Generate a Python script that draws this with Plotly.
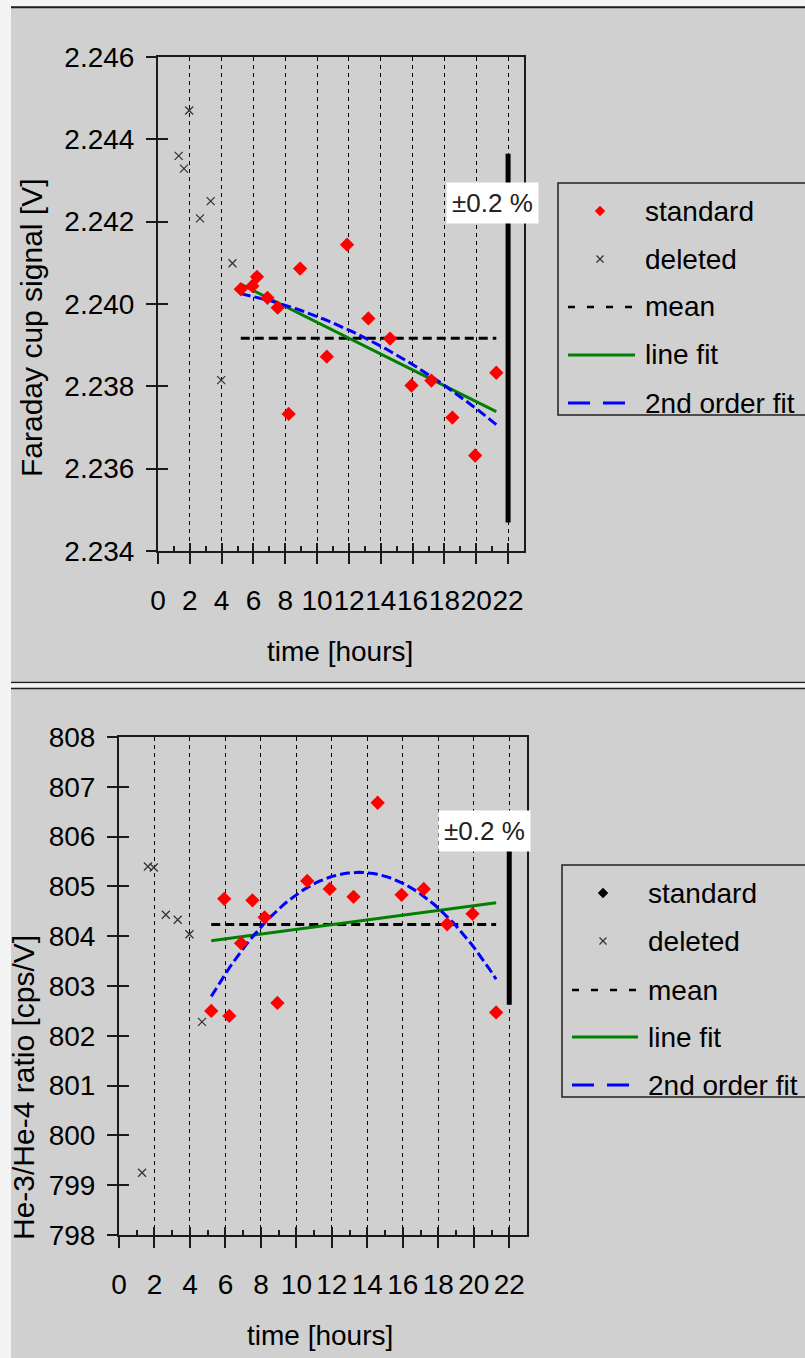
import numpy as np
import plotly.graph_objects as go

# ---------------- data ----------------
t_std = [5.20, 5.93, 6.22, 6.88, 7.52, 8.21, 8.93, 10.61, 11.88, 13.22, 14.58, 15.93, 17.18, 18.50, 19.93, 21.26]
fc_std = [2.24036, 2.24044, 2.24066, 2.24015, 2.23991, 2.23733, 2.24086, 2.23872, 2.24144,
          2.23965, 2.23916, 2.23802, 2.23814, 2.23724, 2.23632, 2.23833]
ratio_std = [802.50, 804.75, 802.40, 803.86, 804.72, 804.38, 802.66, 805.11, 804.95,
             804.79, 806.68, 804.83, 804.95, 804.24, 804.45, 802.47]

t_del = [1.30, 1.63, 1.96, 2.64, 3.31, 3.97, 4.68]
fc_del = [2.24360, 2.24329, 2.24470, 2.24208, 2.24250, 2.23815, 2.24099]
ratio_del = [799.25, 805.40, 805.38, 804.43, 804.33, 804.04, 802.28]

x_ticks = [0, 2, 4, 6, 8, 10, 12, 14, 16, 18, 20, 22]
x_minor = [1, 3, 5, 7, 9, 11, 13, 15, 17, 19, 21]
fc_ticks = [2.234, 2.236, 2.238, 2.240, 2.242, 2.244, 2.246]
ratio_ticks = [798, 799, 800, 801, 802, 803, 804, 805, 806, 807, 808]
band_frac = 0.002
band_x = 22

W, H = 805, 1358
FONT = "Liberation Sans, Arial, sans-serif"
BG = "#d0d0d0"
AX = "#1a1a1a"


def px(x):
    return x / W


def py(y):
    return 1 - y / H


fig = go.Figure()


def add_panel(xa, ya, xa2, ya2, t, y, td, yd):
    t = np.array(t)
    y = np.array(y)
    mean = y.mean()
    ts = np.linspace(t.min(), t.max(), 80)
    p1 = np.polyfit(t, y, 1)
    p2 = np.polyfit(t, y, 2)
    # mean
    fig.add_trace(go.Scatter(x=[t.min(), t.max()], y=[mean, mean], mode="lines",
                             line=dict(color="black", width=3, dash="9px,5px"),
                             xaxis=xa, yaxis=ya, showlegend=False, hoverinfo="skip"))
    # line fit
    fig.add_trace(go.Scatter(x=ts, y=np.polyval(p1, ts), mode="lines",
                             line=dict(color="#008000", width=3),
                             xaxis=xa, yaxis=ya, showlegend=False, hoverinfo="skip"))
    # 2nd order fit
    fig.add_trace(go.Scatter(x=ts, y=np.polyval(p2, ts), mode="lines",
                             line=dict(color="#0000ff", width=3, dash="10px,4px"),
                             xaxis=xa, yaxis=ya, showlegend=False, hoverinfo="skip"))
    # deleted
    fig.add_trace(go.Scatter(x=td, y=yd, mode="markers",
                             marker=dict(symbol="x-thin", size=8, line=dict(color="#303030", width=1.2)),
                             xaxis=xa, yaxis=ya, showlegend=False))
    # standard
    fig.add_trace(go.Scatter(x=t, y=y, mode="markers",
                             marker=dict(symbol="diamond", size=11, color="#ff0000"),
                             xaxis=xa, yaxis=ya, showlegend=False))
    # +-0.2% bar
    fig.add_trace(go.Scatter(x=[band_x, band_x], y=[mean * (1 - band_frac), mean * (1 + band_frac)],
                             mode="lines", line=dict(color="black", width=5),
                             xaxis=xa, yaxis=ya, showlegend=False, hoverinfo="skip"))
    # empty trace so the overlay axes (crossing ticks) are drawn
    fig.add_trace(go.Scatter(x=[], y=[], xaxis=xa2, yaxis=ya2, showlegend=False, hoverinfo="skip"))
    return mean


m1 = add_panel("x", "y", "x3", "y3", t_std, fc_std, t_del, fc_del)
m2 = add_panel("x2", "y2", "x4", "y4", t_std, ratio_std, t_del, ratio_del)

top_dom_x = [px(158), px(524)]
top_dom_y = [py(551), py(57)]
bot_dom_x = [px(119), px(527)]
bot_dom_y = [py(1235), py(737)]

tickfont = dict(family=FONT, size=28, color="black")


def xaxis_main(dom, anchor):
    return dict(domain=dom, anchor=anchor, range=[0, 23], tickmode="array", tickvals=x_ticks,
                ticks="outside", ticklen=11, tickwidth=2, tickcolor=AX,
                showline=True, linecolor=AX, linewidth=2, mirror=True,
                showgrid=True, gridcolor="black", gridwidth=1, griddash="4px,4px",
                zeroline=False, tickfont=tickfont, tickangle=0, ticklabelstandoff=12,
                automargin=False, fixedrange=True)


def xaxis_over(over, anchor):
    return dict(overlaying=over, anchor=anchor, range=[0, 23], tickmode="array", tickvals=x_ticks,
                ticks="inside", ticklen=8, tickwidth=2, tickcolor=AX, showticklabels=False,
                showgrid=False, zeroline=False, showline=False,
                minor=dict(tickmode="array", tickvals=x_minor, ticks="inside", ticklen=5,
                           tickwidth=2, tickcolor=AX, showgrid=False),
                automargin=False)


def yaxis_main(dom, anchor, rng, vals, fmt):
    return dict(domain=dom, anchor=anchor, range=rng, tickmode="array", tickvals=vals,
                tickformat=fmt, ticks="outside", ticklen=10, tickwidth=2, tickcolor=AX,
                showline=True, linecolor=AX, linewidth=2, mirror=True,
                showgrid=False, zeroline=False, tickfont=tickfont, ticklabelstandoff=6,
                automargin=False, fixedrange=True)


def yaxis_over(over, anchor, rng, vals):
    return dict(overlaying=over, anchor=anchor, range=rng, tickmode="array", tickvals=vals,
                ticks="inside", ticklen=10, tickwidth=2, tickcolor=AX, showticklabels=False,
                showgrid=False, zeroline=False, showline=False, automargin=False)


fig.update_layout(
    width=W, height=H,
    margin=dict(l=0, r=0, t=0, b=0),
    paper_bgcolor=BG, plot_bgcolor=BG,
    showlegend=False,
    xaxis=xaxis_main(top_dom_x, "y"),
    yaxis=yaxis_main(top_dom_y, "x", [2.234, 2.246], fc_ticks, ".3f"),
    xaxis3=xaxis_over("x", "y3"),
    yaxis3=yaxis_over("y", "x3", [2.234, 2.246], fc_ticks),
    xaxis2=xaxis_main(bot_dom_x, "y2"),
    yaxis2=yaxis_main(bot_dom_y, "x2", [798, 808], ratio_ticks, "d"),
    xaxis4=xaxis_over("x2", "y4"),
    yaxis4=yaxis_over("y2", "x4", [798, 808], ratio_ticks),
)

shapes = []
annos = []

# frame strips / separators
shapes.append(dict(type="rect", xref="paper", yref="paper", x0=0, x1=px(11), y0=0, y1=1,
                   fillcolor="#f4f4f4", line=dict(width=0), layer="above"))
shapes.append(dict(type="rect", xref="paper", yref="paper", x0=0, x1=1, y0=py(6.3), y1=1,
                   fillcolor="#f4f4f4", line=dict(width=0), layer="above"))
shapes.append(dict(type="rect", xref="paper", yref="paper", x0=px(11), x1=1, y0=py(8.3), y1=py(6.3),
                   fillcolor="#202020", line=dict(width=0), layer="above"))
shapes.append(dict(type="rect", xref="paper", yref="paper", x0=px(11), x1=1, y0=py(683.3), y1=py(681.7),
                   fillcolor="#202020", line=dict(width=0), layer="above"))
shapes.append(dict(type="rect", xref="paper", yref="paper", x0=px(11), x1=1, y0=py(687.7), y1=py(683.3),
                   fillcolor="#f4f4f4", line=dict(width=0), layer="above"))
shapes.append(dict(type="rect", xref="paper", yref="paper", x0=px(11), x1=1, y0=py(689.3), y1=py(687.7),
                   fillcolor="#202020", line=dict(width=0), layer="above"))


def legend(x0, y0, y1, rows, mx, lx0, lx1, tx, std_color):
    shapes.append(dict(type="rect", xref="paper", yref="paper", x0=px(x0), x1=px(830),
                       y0=py(y1), y1=py(y0), line=dict(color="#202020", width=1.5),
                       fillcolor="rgba(0,0,0,0)", layer="above"))
    names = ["standard", "deleted", "mean", "line fit", "2nd order fit"]
    r = rows[0]
    d = 5
    shapes.append(dict(type="path", xref="paper", yref="paper",
                       path=f"M {px(mx)} {py(r - d)} L {px(mx + d)} {py(r)} L {px(mx)} {py(r + d)} L {px(mx - d)} {py(r)} Z",
                       fillcolor=std_color, line=dict(color=std_color, width=0.5), layer="above"))
    r = rows[1]
    e = 3.5
    shapes.append(dict(type="path", xref="paper", yref="paper",
                       path=f"M {px(mx - e)} {py(r - e)} L {px(mx + e)} {py(r + e)} M {px(mx - e)} {py(r + e)} L {px(mx + e)} {py(r - e)}",
                       line=dict(color="#303030", width=1.2), layer="above"))
    shapes.append(dict(type="line", xref="paper", yref="paper", x0=px(lx0), x1=px(lx1),
                       y0=py(rows[2]), y1=py(rows[2]), line=dict(color="black", width=2.5, dash="7px,12px"),
                       layer="above"))
    shapes.append(dict(type="line", xref="paper", yref="paper", x0=px(lx0), x1=px(lx1),
                       y0=py(rows[3]), y1=py(rows[3]), line=dict(color="#008000", width=3), layer="above"))
    shapes.append(dict(type="line", xref="paper", yref="paper", x0=px(lx0), x1=px(lx1),
                       y0=py(rows[4]), y1=py(rows[4]), line=dict(color="#0000ff", width=3, dash="22px,13px"),
                       layer="above"))
    for nm, r in zip(names, rows):
        annos.append(dict(xref="paper", yref="paper", x=px(tx), y=py(r), text=nm, showarrow=False,
                          xanchor="left", yanchor="middle", font=dict(family=FONT, size=28, color="black")))


legend(558, 183, 415, [211, 259, 307, 355, 403], 600, 568, 635, 643, "#ff0000")
legend(562, 865, 1097, [893, 941, 990, 1037, 1085], 603, 572, 638, 646, "black")

# +-0.2% labels
annos.append(dict(xref="x", yref="y", x=21.0, y=2.24245, text="±0.2 %", showarrow=False,
                  bgcolor="white", borderpad=5, font=dict(family=FONT, size=26, color="#222")))
annos.append(dict(xref="x2", yref="y2", x=20.6, y=806.11, text="±0.2 %", showarrow=False,
                  bgcolor="white", borderpad=5, font=dict(family=FONT, size=26, color="#222")))

# axis titles
tf = dict(family=FONT, size=28, color="black")
tfy = dict(family=FONT, size=30, color="black")
annos.append(dict(xref="paper", yref="paper", x=px(340), y=py(651), text="time [hours]", showarrow=False,
                  xanchor="center", yanchor="middle", font=tf))
annos.append(dict(xref="paper", yref="paper", x=px(320), y=py(1335), text="time [hours]", showarrow=False,
                  xanchor="center", yanchor="middle", font=tf))
annos.append(dict(xref="paper", yref="paper", x=px(31), y=py(328), text="Faraday cup signal [V]",
                  showarrow=False, textangle=-90, xanchor="center", yanchor="middle", font=tfy))
annos.append(dict(xref="paper", yref="paper", x=px(23), y=py(1088), text="He-3/He-4 ratio [cps/V]",
                  showarrow=False, textangle=-90, xanchor="center", yanchor="middle", font=tfy))

fig.update_layout(shapes=shapes, annotations=annos)
fig.write_html("out.html")
